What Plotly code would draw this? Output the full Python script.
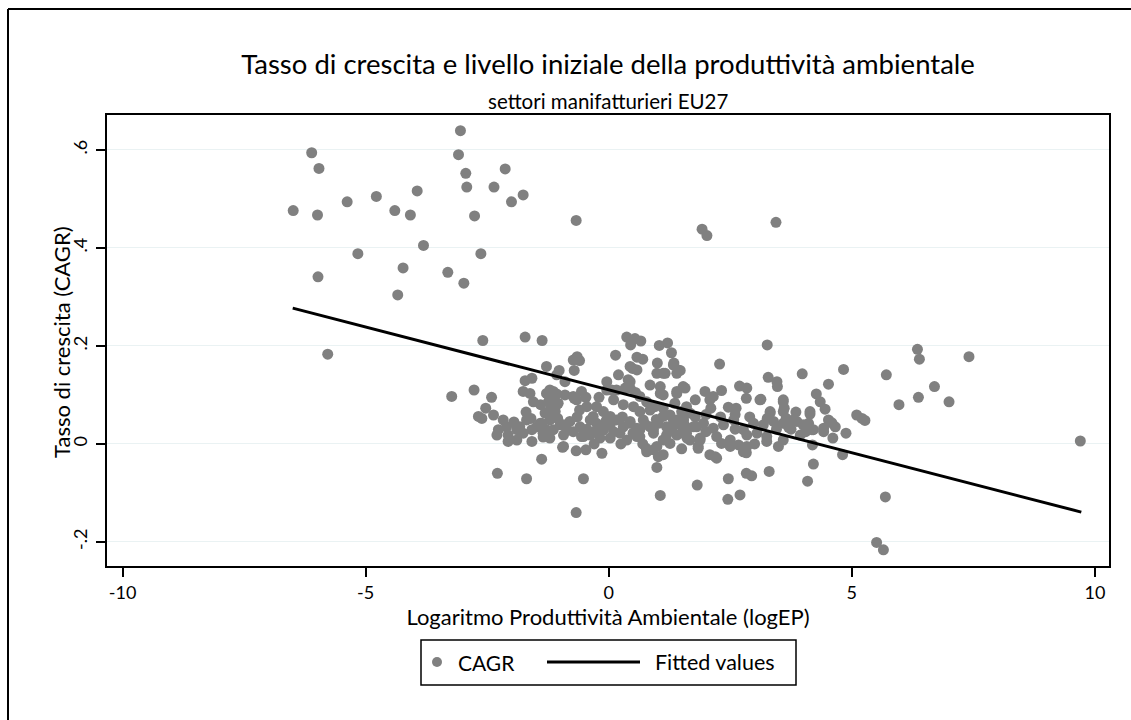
import plotly.graph_objects as go

# ---- data ----
pts_upper = [(-6.11,0.594),(-5.96,0.562),(-6.49,0.476),(-5.99,0.467),(-5.38,0.494),(-4.78,0.505),
    (-4.40,0.476),(-5.16,0.388),(-5.98,0.341),(-4.34,0.304),(-5.78,0.183),(-3.05,0.639),(-3.09,0.590),
    (-2.94,0.552),(-2.92,0.524),(-2.13,0.561),(-2.36,0.524),(-2.00,0.494),(-1.76,0.508),(-3.94,0.516),
    (-4.08,0.467),(-2.76,0.465),(-3.81,0.405),(-4.23,0.359),(-2.63,0.388),(-3.31,0.350),(-2.98,0.328),
    (-0.67,0.456),(1.92,0.438),(2.02,0.425),(3.44,0.452)]
pts_mid = [(-2.59,0.211),(-1.72,0.218),(-1.37,0.211),(3.26,0.202),(2.28,0.163),(0.37,0.218),(0.54,0.215),
    (0.66,0.210),(0.45,0.202),(1.04,0.201),(1.21,0.206),(1.29,0.186),(0.14,0.181),(-0.65,0.178),(-0.60,0.170),
    (0.58,0.177),(0.70,0.173)]
pts_left = [(-3.23,0.097),(-2.77,0.110),(-2.41,0.095),(-2.53,0.073),(-2.61,0.052),(-2.68,0.056),(-2.37,0.059),
    (-2.29,-0.060),(-1.69,-0.071),(-1.38,-0.031),(-0.67,-0.140),(-0.52,-0.071),(-0.14,-0.019),(-0.67,-0.014),
    (-0.47,-0.012),(-0.95,-0.007),(-1.35,0.014),(-1.58,0.005),(-2.07,0.005),(-2.30,0.018),(0.99,-0.048),
    (1.06,-0.105),(1.82,-0.084),(0.78,-0.016),(0.77,-0.009),(1.12,-0.022),(1.02,-0.026),
    (-1.28,0.158),(-1.02,0.150),(-0.71,0.150),(0.49,0.154),(1.00,0.165),(1.12,0.144),(1.43,0.151),(1.34,0.165),
    (-1.72,0.129),(-1.58,0.134),(-1.76,0.107),(-1.55,0.086),(-1.62,0.103),(-1.21,0.110),(-1.07,0.102),
    (-1.24,0.086),(-1.21,0.069),(-1.07,0.080),(-0.71,0.093),(-0.47,0.095),(-0.60,0.069),(-0.56,0.107),
    (-0.04,0.127),(0.20,0.141),(0.34,0.114),(0.44,0.127),(0.06,0.110),(0.85,0.120),(1.06,0.117),(1.12,0.100),
    (1.40,0.103),(1.57,0.114),(1.78,0.090),(0.64,0.097),(0.78,0.086)]
pts_right = [(1.47,0.150),(1.98,0.107),(2.15,0.097),(2.32,0.109),(2.10,0.073),(2.08,0.090),
    (2.69,0.118),(2.84,0.114),(2.83,0.093),(3.13,0.091),(2.46,0.075),(2.62,0.073),(3.28,0.136),(3.46,0.127),
    (3.47,0.117),(3.98,0.143),(3.59,0.090),(3.61,0.073),(3.32,0.063),(3.26,0.052),(3.65,0.052),(3.87,0.046),
    (3.70,0.034),(4.27,0.102),(4.35,0.086),(4.45,0.071),(4.52,0.122),(4.14,0.061),(4.18,0.029),(4.42,0.025),
    (4.59,0.043),(4.66,0.035),(4.61,0.012),(4.88,0.022),(4.83,0.152),(5.10,0.059),(5.21,0.052),(5.27,0.048),
    (5.71,0.141),(5.97,0.080),(6.37,0.095),(6.35,0.193),(6.39,0.173),(4.21,-0.041),(4.09,-0.076),(4.81,-0.022),
    (4.19,-0.002),(5.69,-0.108),(5.51,-0.201),(5.65,-0.216),(3.30,-0.056),(2.46,-0.071),(2.45,-0.113),
    (2.70,-0.104),(2.83,-0.060),(2.94,-0.065),(2.83,-0.018),(3.49,-0.005),(3.25,0.005),(2.67,-0.002),
    (2.08,-0.022),(2.19,-0.026),(1.84,-0.005),(1.88,0.008),(2.32,0.001),
    (7.41,0.178),(6.70,0.117),(7.00,0.086),(9.70,0.006)]
pts_core = [(0.44,0.158),(0.58,0.151),(0.99,0.144),(1.16,0.144),(1.33,0.161),(1.40,0.144),(-1.07,0.141),
    (-0.73,0.171),(-0.90,0.127),(-1.14,0.107),(-1.28,0.103),(-1.21,0.090),(-1.04,0.083),(-1.31,0.063),
    (-1.10,0.066),(-0.73,0.097),(-0.66,0.090),(-0.45,0.076),(0.40,0.131),(0.44,0.114),(-0.04,0.110),
    (0.16,0.110),(1.06,0.103),(0.95,0.076),(1.40,0.107),(1.53,0.117),(1.36,0.083),(1.60,0.076),
    (-1.41,0.042),(-1.21,0.049),(-1.00,0.039),(-0.80,0.046),(-0.59,0.035),(-0.38,0.049),(-0.25,0.042),
    (-0.11,0.028),(0.03,0.039),(0.16,0.049),(0.30,0.035),(0.44,0.046),(0.58,0.032),(0.71,0.049),(0.85,0.035),
    (1.02,0.042),(1.19,0.035),(1.33,0.049),(1.47,0.039),(1.61,0.032),
    (-1.35,0.022),(-0.93,0.018),(-0.52,0.015),(-0.18,0.012),(0.23,0.022),(0.37,0.008),(0.64,0.015),
    (0.92,0.022),(1.12,0.008),(1.40,0.018),(1.61,0.012),(-0.93,-0.005),(0.92,-0.012),
    (0.30,0.080),(0.51,0.076),(0.64,0.066),(-0.25,0.076),(-0.11,0.066),(-0.32,0.056),(1.12,0.073),
    (1.26,0.059),(1.50,0.066),
    (1.54,0.049),(1.74,0.035),(1.95,0.042),(2.15,0.032),(2.36,0.039),(2.57,0.049),(2.77,0.029),(2.98,0.042),
    (3.18,0.039),(3.39,0.046),(3.59,0.042),(3.80,0.049),(4.00,0.039),(4.21,0.029),(4.42,0.032),(4.52,0.049),
    (1.60,0.022),(1.88,0.012),(2.22,0.015),(2.50,0.008),(2.84,0.018),(3.25,0.015),(3.59,0.008),(3.94,0.018),
    (1.84,-0.009),(2.22,-0.029),(2.77,-0.016),(2.84,-0.005),(3.11,0.090),(3.32,0.066),(3.59,0.086),
    (3.59,0.066),(4.14,0.066),(4.11,0.042),
    (-2.10,0.035),(-1.89,0.029),(-1.69,0.049),(-1.48,0.035),(-2.17,0.049),(-1.76,0.022),
    (0.85,0.069),(1.12,0.056),(1.40,0.049),(1.67,0.063),(0.92,0.029),(1.19,0.018),(1.53,0.022),(1.81,0.035),
    (0.99,-0.005),(1.26,0.001),(1.67,0.008),(-0.18,0.035),(0.03,0.056),(0.44,0.042),(0.64,0.029),
    (-0.38,0.018),(0.03,0.012),(0.58,0.015),
    (-2.27,0.029),(-2.07,0.018),(-1.83,0.035),(-1.58,0.029),(-1.38,0.042),(-1.14,0.029),(-0.93,0.039),
    (-0.73,0.025),(-0.56,0.015),(-1.89,0.008),(-1.21,0.012)]
pts_dense = [(-1.95,0.045),(-1.60,0.052),(-1.30,0.030),(-1.05,0.052),(-0.85,0.028),(-0.65,0.055),
    (-0.45,0.030),(-0.30,0.025),(-0.05,0.048),(0.10,0.025),(0.28,0.055),(0.50,0.022),(0.75,0.040),
    (0.98,0.050),(1.30,0.030),(1.55,0.040),(1.78,0.055),(2.00,0.025),(2.30,0.055),(2.60,0.030),
    (2.90,0.055),(3.05,0.022),(3.45,0.030),(3.75,0.030),(4.05,0.025),(-0.20,0.095),(0.10,0.090),
    (0.55,0.105),(-0.90,0.100),(-1.40,0.080),(0.25,0.000),(0.70,0.000),(-0.30,0.000),(1.50,-0.010),
    (2.50,-0.005),(3.00,0.000),(-1.70,0.065),(2.00,0.060),(2.60,0.060),(3.85,0.065)]

all_pts = pts_upper + pts_mid + pts_left + pts_right + pts_core + pts_dense
logEP = [p[0] for p in all_pts]
CAGR = [p[1] for p in all_pts]

fit_x = [-6.50, 9.72]
fit_y = [0.277, -0.139]

y_tickvals = [-0.2, 0, 0.2, 0.4, 0.6]
y_ticktext = ["-.2", "0", ".2", ".4", ".6"]
x_tickvals = [-10, -5, 0, 5, 10]
x_ticktext = ["-10", "-5", "0", "5", "10"]

FONT = "Lato"
GRAY = "#808080"

# plot-area geometry (pixels) used to place decorations in paper coordinates
L, R, T, B = 107, 1109, 115, 566
def px(x):
    return (x - L) / (R - L)
def py(y):
    return (B - y) / (B - T)

fig = go.Figure()
fig.add_trace(go.Scatter(x=logEP, y=CAGR, mode="markers", name="CAGR",
                         marker=dict(color=GRAY, size=11, line=dict(width=0))))
fig.add_trace(go.Scatter(x=fit_x, y=fit_y, mode="lines", name="Fitted values",
                         line=dict(color="black", width=3)))

leg_y = 662
fig.update_layout(
    width=1131, height=720,
    margin=dict(l=L, r=1131 - R, t=T, b=720 - B),
    paper_bgcolor="white", plot_bgcolor="white",
    font=dict(family=FONT, color="black"),
    title=dict(text="Tasso di crescita e livello iniziale della produttività ambientale",
               x=608 / 1131, xanchor="center", y=1 - 64 / 720, yanchor="middle",
               font=dict(size=27.5, family=FONT, color="black")),
    annotations=[
        dict(text="settori manifatturieri EU27", xref="paper", yref="paper",
             x=px(608), y=py(101), xanchor="center", yanchor="middle",
             showarrow=False, font=dict(size=20.5, family=FONT, color="black")),
        dict(text="Tasso di crescita (CAGR)", xref="paper", yref="paper",
             x=px(61), y=py(342), xanchor="center", yanchor="middle", textangle=-90,
             showarrow=False, font=dict(size=22, family=FONT, color="black")),
        dict(text="CAGR", xref="paper", yref="paper", x=px(456), y=py(leg_y),
             xanchor="left", yanchor="middle", showarrow=False,
             font=dict(size=21, family=FONT, color="black")),
        dict(text="Fitted values", xref="paper", yref="paper", x=px(653), y=py(leg_y),
             xanchor="left", yanchor="middle", showarrow=False,
             font=dict(size=21.5, family=FONT, color="black")),
    ],
    xaxis=dict(range=[-10.32, 10.29], tickvals=x_tickvals, ticktext=x_ticktext,
               showgrid=False, zeroline=False, showline=True, mirror=True,
               linecolor="black", linewidth=2, ticks="outside", ticklen=9, tickwidth=1.5,
               tickcolor="black", tickfont=dict(size=18),
               title=dict(text="Logaritmo Produttività Ambientale (logEP)", font=dict(size=22), standoff=4)),
    yaxis=dict(range=[-0.249, 0.671], tickvals=y_tickvals, ticktext=y_ticktext, tickangle=-90,
               showgrid=True, gridcolor="#eaf2f3", gridwidth=1.2, zeroline=False,
               showline=True, mirror=True, linecolor="black", linewidth=2,
               ticks="outside", ticklen=9, tickwidth=1.5, tickcolor="black", tickfont=dict(size=18),
               ticklabelstandoff=2),
    showlegend=False,
    shapes=[
        # outer graph frame (right and bottom edges fall outside the picture)
        dict(type="line", xref="paper", yref="paper", x0=px(8), x1=px(1200),
             y0=py(9), y1=py(9), line=dict(color="black", width=2)),
        dict(type="line", xref="paper", yref="paper", x0=px(8), x1=px(8),
             y0=py(9), y1=py(800), line=dict(color="black", width=2)),
        # legend box and keys
        dict(type="rect", xref="paper", yref="paper", x0=px(421), x1=px(796),
             y0=py(640), y1=py(685), line=dict(color="black", width=1.5), fillcolor="white"),
        dict(type="circle", xref="paper", yref="paper", x0=px(432), x1=px(442),
             y0=py(leg_y - 5), y1=py(leg_y + 5), line=dict(width=0), fillcolor=GRAY),
        dict(type="line", xref="paper", yref="paper", x0=px(547), x1=px(640),
             y0=py(leg_y), y1=py(leg_y), line=dict(color="black", width=3)),
    ],
)

fig.write_html("out.html", config={"displayModeBar": False})
